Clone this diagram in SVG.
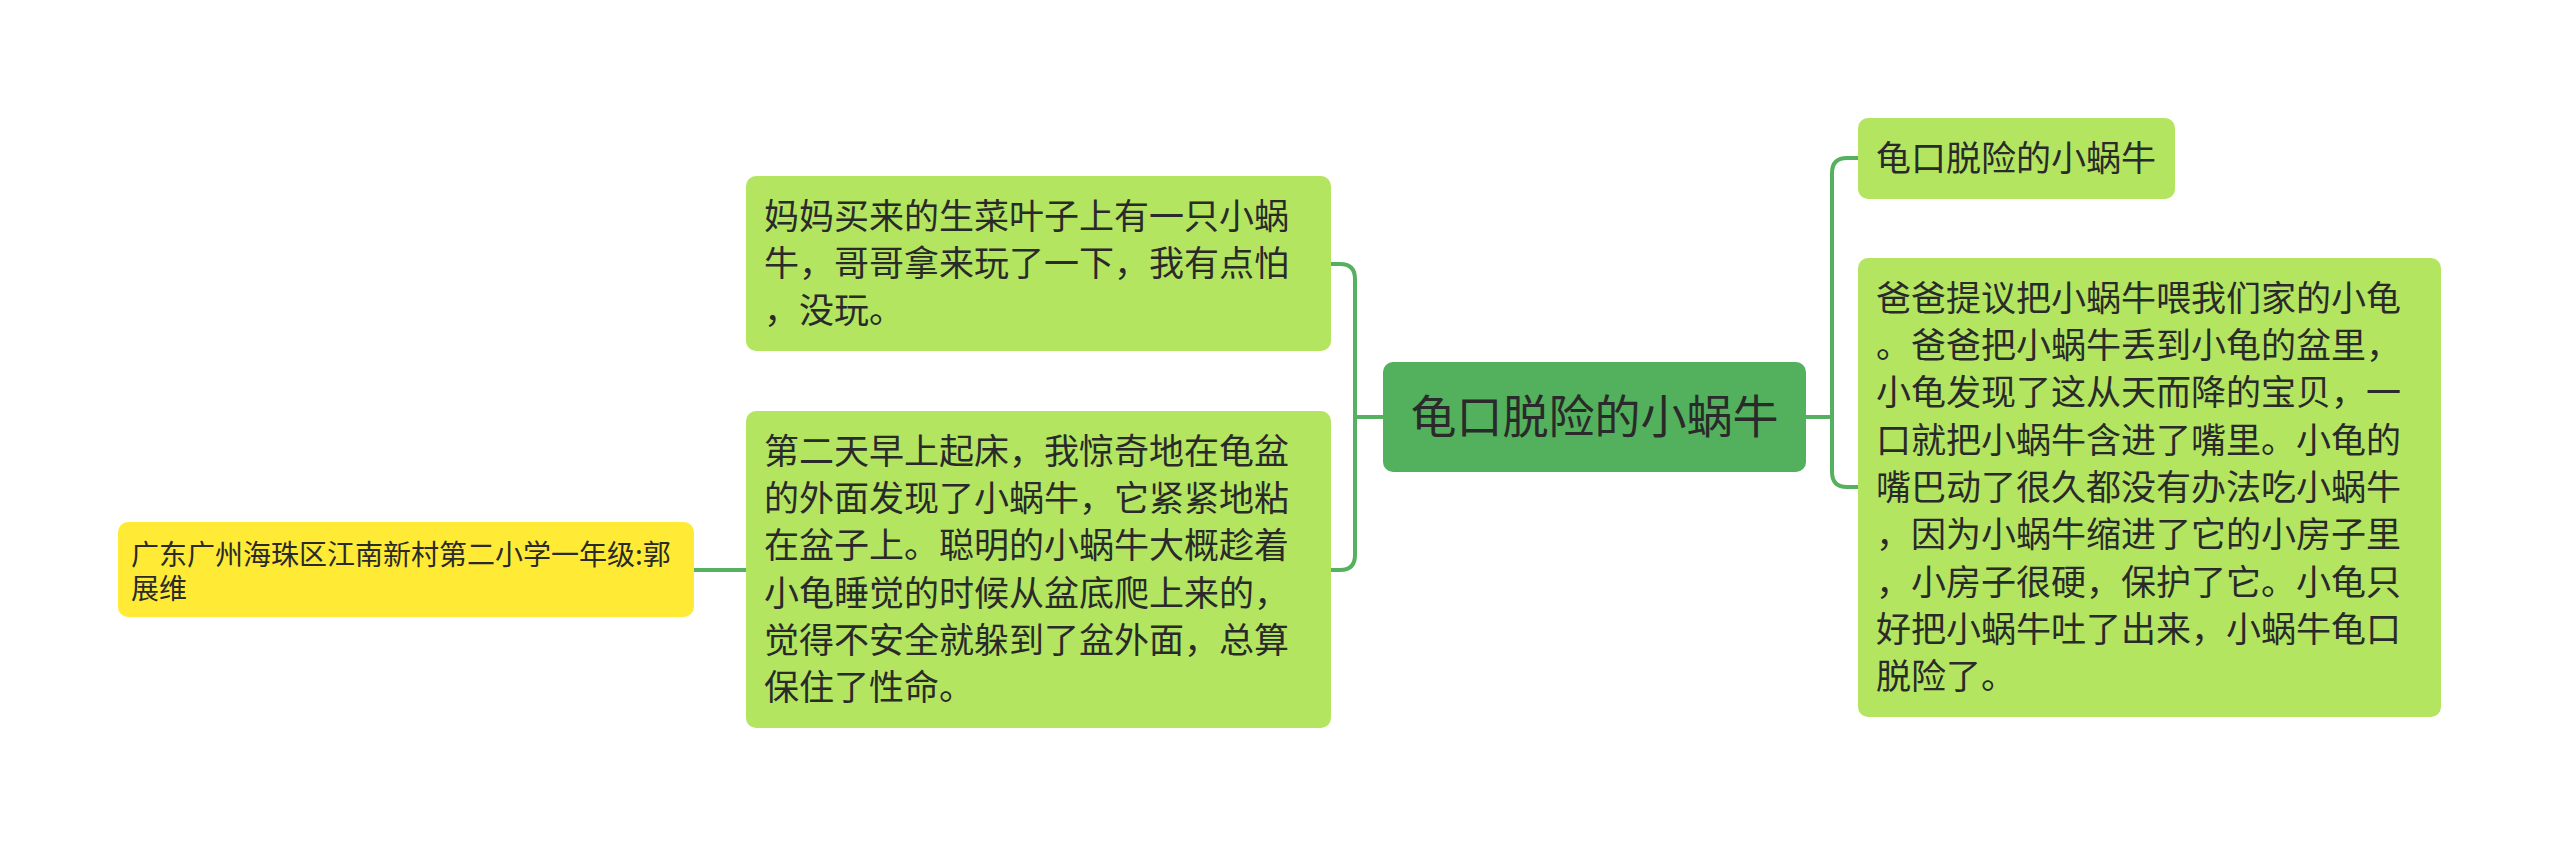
<svg xmlns="http://www.w3.org/2000/svg" width="2560" height="848" viewBox="0 0 2560 848">
<style>
.t{font-family:"Noto Sans CJK SC","Noto Sans",sans-serif;fill:#2a2a2a}
.n{font-size:35px}
.s{font-size:28px}
.c{font-size:46px;text-anchor:middle}
.g{fill:#b3e561}
.y{fill:#ffeb36}
.m{fill:#53b05d}
.l{fill:none;stroke:#55b160;stroke-width:4}
</style>
<rect width="2560" height="848" fill="#ffffff"/>
<g id="connectors">
<path class="l" d="M1383,417 H1355"/>
<path class="l" d="M1331,264 H1340 Q1355,264 1355,279 V555 Q1355,570 1340,570 H1331"/>
<path class="l" d="M1806,417 H1832"/>
<path class="l" d="M1858,158 H1847 Q1832,158 1832,173 V472 Q1832,487 1847,487 H1858"/>
<path class="l" d="M694,570 H746"/>
</g>
<g id="center">
<rect class="m" x="1383" y="362" width="423" height="110" rx="10"/>
<text class="t c" x="1594.5" y="433">龟口脱险的小蜗牛</text>
</g>
<g id="nodeA">
<rect class="g" x="746" y="176" width="585" height="175" rx="10"/>
<text class="t n" x="764" y="229">妈妈买来的生菜叶子上有一只小蜗</text>
<text class="t n" x="764" y="276">牛，哥哥拿来玩了一下，我有点怕</text>
<text class="t n" x="764" y="323">，没玩。</text>
</g>
<g id="nodeB">
<rect class="g" x="746" y="411" width="585" height="317" rx="10"/>
<text class="t n" x="764" y="464">第二天早上起床，我惊奇地在龟盆</text>
<text class="t n" x="764" y="511">的外面发现了小蜗牛，它紧紧地粘</text>
<text class="t n" x="764" y="558">在盆子上。聪明的小蜗牛大概趁着</text>
<text class="t n" x="764" y="606">小龟睡觉的时候从盆底爬上来的，</text>
<text class="t n" x="764" y="653">觉得不安全就躲到了盆外面，总算</text>
<text class="t n" x="764" y="700">保住了性命。</text>
</g>
<g id="nodeC">
<rect class="y" x="118" y="522" width="576" height="95" rx="10"/>
<text class="t s" x="131" y="565">广东广州海珠区江南新村第二小学一年级:郭</text>
<text class="t s" x="131" y="599">展维</text>
</g>
<g id="nodeD">
<rect class="g" x="1858" y="118" width="317" height="81" rx="10"/>
<text class="t n" x="1876" y="171">龟口脱险的小蜗牛</text>
</g>
<g id="nodeE">
<rect class="g" x="1858" y="258" width="583" height="459" rx="10"/>
<text class="t n" x="1876" y="311">爸爸提议把小蜗牛喂我们家的小龟</text>
<text class="t n" x="1876" y="358">。爸爸把小蜗牛丢到小龟的盆里，</text>
<text class="t n" x="1876" y="405">小龟发现了这从天而降的宝贝，一</text>
<text class="t n" x="1876" y="453">口就把小蜗牛含进了嘴里。小龟的</text>
<text class="t n" x="1876" y="500">嘴巴动了很久都没有办法吃小蜗牛</text>
<text class="t n" x="1876" y="547">，因为小蜗牛缩进了它的小房子里</text>
<text class="t n" x="1876" y="595">，小房子很硬，保护了它。小龟只</text>
<text class="t n" x="1876" y="642">好把小蜗牛吐了出来，小蜗牛龟口</text>
<text class="t n" x="1876" y="689">脱险了。</text>
</g>
</svg>
